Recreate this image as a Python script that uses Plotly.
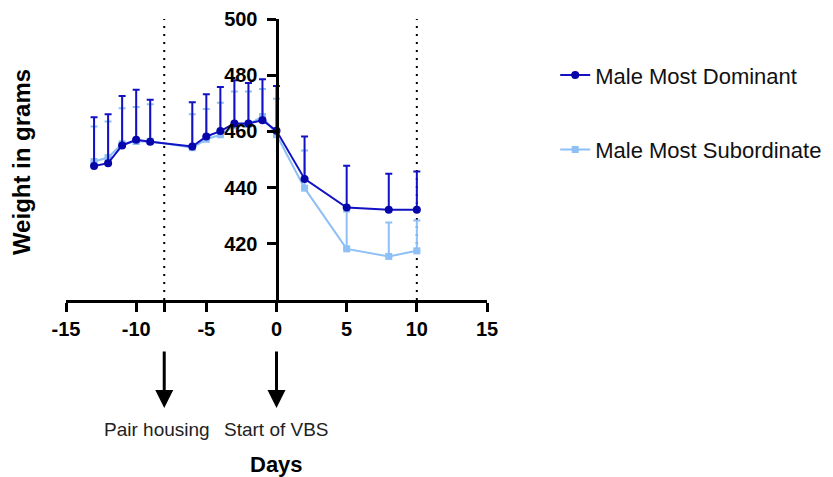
import plotly.graph_objects as go

days = [-13, -12, -11, -10, -9, -6, -5, -4, -3, -2, -1, 0, 2, 5, 8, 10]
dom_mean = [447.7, 448.7, 455.0, 457.0, 456.3, 454.6, 458.2, 460.1, 462.8, 462.8, 464.0, 460.2, 443.1, 432.9, 432.1, 432.1]
dom_err = [17.3, 17.4, 17.6, 17.8, 15.0, 15.8, 15.0, 15.7, 15.4, 14.4, 14.6, 16.0, 15.1, 14.9, 12.8, 13.6]
sub_mean = [449.3, 450.7, 455.6, 456.4, 456.5, 454.2, 457.2, 458.8, 462.0, 462.5, 465.3, 458.8, 439.8, 418.2, 415.5, 417.5]
sub_err = [12.4, 12.8, 12.6, 12.3, 13.2, 11.9, 10.8, 11.4, 12.2, 11.7, 9.8, 12.8, 13.4, 13.3, 12.1, 10.8]

x_ticks = [-15, -10, -8, -5, 0, 5, 10, 15]
x_ticktext = ["-15", "-10", "", "-5", "0", "5", "10", "15"]
y_ticks = [420, 440, 460, 480, 500]
event_days = [-8, 0]
event_labels = ["Pair housing", "Start of VBS"]
event_label_shift = [-7, 0]
dotted_days = [-8, 10]

FONT = "Liberation Sans, Arial, sans-serif"
DOM = "#1212c4"
DOM_M = "#0505aa"
SUB = "#8ec0f5"

fig = go.Figure()

fig.add_trace(go.Scatter(
    x=days, y=sub_mean, mode="lines+markers", name="Male Most Subordinate",
    line=dict(color=SUB, width=2),
    marker=dict(symbol="square", size=7, color=SUB),
    error_y=dict(type="data", symmetric=False, array=sub_err,
                 arrayminus=[0] * len(sub_err), color=SUB, thickness=2, width=3.5),
    legendgroup="sub", legendrank=2,
))
fig.add_trace(go.Scatter(
    x=days, y=dom_mean, mode="lines+markers", name="Male Most Dominant",
    line=dict(color=DOM, width=2),
    marker=dict(symbol="circle", size=8, color=DOM_M),
    error_y=dict(type="data", symmetric=False, array=dom_err,
                 arrayminus=[0] * len(dom_err), color=DOM, thickness=2, width=3.5),
    legendgroup="dom", legendrank=1,
))

for d in dotted_days:
    fig.add_shape(type="line", x0=d, x1=d, y0=400, y1=500, xref="x", yref="y",
                  line=dict(color="black", width=2, dash="2px,6px"), layer="below")

for d, lab, sh in zip(event_days, event_labels, event_label_shift):
    fig.add_annotation(x=d, y=-0.384, xref="x", yref="paper", ax=0, ay=-58,
                       text="", showarrow=True, arrowhead=2, arrowsize=1.2,
                       arrowwidth=3, arrowcolor="black")
    fig.add_annotation(x=d, y=-0.46, xref="x", yref="paper", text=lab,
                       showarrow=False, yanchor="middle", xshift=sh,
                       font=dict(family=FONT, size=19, color="#222"))

fig.add_annotation(x=0, y=-0.585, xref="x", yref="paper", text="<b>Days</b>",
                   showarrow=False, yanchor="middle",
                   font=dict(family=FONT, size=22, color="black"))
fig.add_annotation(x=-0.105, y=0.49, xref="paper", yref="paper",
                   text="<b>Weight in grams</b>", textangle=-90, showarrow=False,
                   xanchor="center", yanchor="middle",
                   font=dict(family=FONT, size=24, color="black"))

# page body has an 8px default margin, so the figure is drawn at (8, 8)
fig.update_layout(
    width=825, height=469,
    margin=dict(l=58, r=346, t=11, b=177, autoexpand=False),
    paper_bgcolor="white", plot_bgcolor="white",
    font=dict(family=FONT, color="black"),
    xaxis=dict(range=[-15, 15], domain=[0, 1], tickvals=x_ticks, ticktext=x_ticktext,
               showline=True, linecolor="black", linewidth=3, ticks="outside",
               ticklen=9, tickwidth=3, tickcolor="black", showgrid=False,
               zeroline=False, tickfont=dict(family=FONT, size=20, color="black", weight="bold")),
    yaxis=dict(range=[400, 500], anchor="free", position=0.5, tickvals=y_ticks,
               showline=True, linecolor="black", linewidth=3, ticks="outside",
               ticklen=9, tickwidth=3, tickcolor="black", showgrid=False,
               ticklabelstandoff=5,
               zeroline=False, tickfont=dict(family=FONT, size=20, color="black", weight="bold")),
    legend=dict(x=1.162, y=0.875, xanchor="left", yanchor="top",
                traceorder="grouped", tracegroupgap=43,
                font=dict(family=FONT, size=22, color="#111"), bgcolor="rgba(0,0,0,0)"),
)

fig.write_html("out.html")
